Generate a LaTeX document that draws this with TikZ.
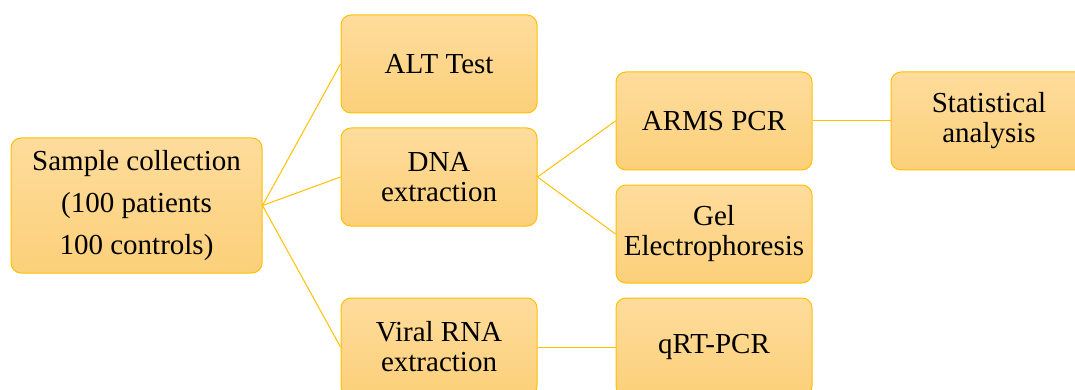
\documentclass[tikz,border=0pt]{standalone}
\usepackage{fontspec}
\setmainfont{Liberation Serif}
\newfontfamily\boxfont{Liberation Serif}
\definecolor{boxtop}{RGB}{254,220,156}
\definecolor{boxbot}{RGB}{252,208,122}
\definecolor{edge}{RGB}{255,192,0}
\tikzset{
  stepbox/.style={draw=edge, line width=1pt, rounded corners=10pt,
    top color=boxtop, bottom color=boxbot, minimum width=196pt, minimum height=98pt,
    align=center, inner sep=2pt, font=\boxfont\fontsize{29}{30}\selectfont, text=black},
  link/.style={draw=edge, line width=1pt}
}
\begin{document}
\begin{tikzpicture}[x=1pt,y=-1pt]
\useasboundingbox (0,0) rectangle (1075,390);
\clip (0,0) rectangle (1075,390);
\node[stepbox, minimum width=251pt, minimum height=135pt, font=\boxfont\fontsize{29}{42}\selectfont] (sample) at (136.5,205.5) {Sample collection\\(100 patients\\100 controls)};
\node[stepbox] (alt) at (439,64) {ALT Test};
\node[stepbox] (dna) at (439,177) {DNA\\extraction};
\node[stepbox] (rna) at (439,347) {Viral RNA\\extraction};
\node[stepbox] (arms) at (714,121) {ARMS PCR};
\node[stepbox] (gel) at (714,234) {Gel\\Electrophoresis};
\node[stepbox] (qrt) at (714,347) {qRT-PCR};
\node[stepbox] (stat) at (989,121) {Statistical\\analysis};
\draw[link] (sample.east) -- (alt.west);
\draw[link] (sample.east) -- (dna.west);
\draw[link] (sample.east) -- (rna.west);
\draw[link] (dna.east) -- (arms.west);
\draw[link] (dna.east) -- (gel.west);
\draw[link] (arms.east) -- (stat.west);
\draw[link] (rna.east) -- (qrt.west);
\end{tikzpicture}
\end{document}
